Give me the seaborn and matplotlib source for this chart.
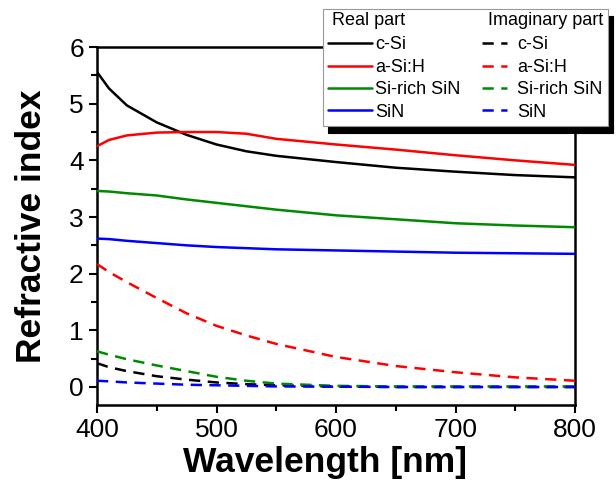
import numpy as np
import pandas as pd
import seaborn as sns
import matplotlib
matplotlib.use("Agg")
import matplotlib.pyplot as plt
from matplotlib.lines import Line2D
from matplotlib.text import Text
from matplotlib.legend_handler import HandlerLine2D, HandlerBase

wavelength = [400, 410, 425, 450, 475, 500, 525, 550, 600, 650, 700, 750, 800]
materials = ["c-Si", "a-Si:H", "Si-rich SiN", "SiN"]

n_real = {
    "c-Si":        [5.56, 5.27, 4.97, 4.67, 4.45, 4.28, 4.16, 4.08, 3.97, 3.87, 3.80, 3.74, 3.70],
    "a-Si:H":      [4.25, 4.36, 4.44, 4.49, 4.50, 4.50, 4.47, 4.38, 4.28, 4.19, 4.09, 4.00, 3.92],
    "Si-rich SiN": [3.46, 3.45, 3.42, 3.38, 3.31, 3.25, 3.19, 3.13, 3.03, 2.96, 2.89, 2.85, 2.82],
    "SiN":         [2.62, 2.61, 2.58, 2.54, 2.50, 2.47, 2.45, 2.43, 2.41, 2.39, 2.37, 2.36, 2.35],
}
k_imag = {
    "c-Si":        [0.42, 0.35, 0.28, 0.19, 0.13, 0.08, 0.05, 0.03, 0.01, 0.00, 0.00, 0.00, 0.00],
    "a-Si:H":      [2.17, 2.03, 1.85, 1.57, 1.30, 1.08, 0.91, 0.76, 0.53, 0.37, 0.26, 0.17, 0.11],
    "Si-rich SiN": [0.63, 0.57, 0.49, 0.38, 0.28, 0.18, 0.11, 0.06, 0.02, 0.01, 0.01, 0.01, 0.01],
    "SiN":         [0.11, 0.10, 0.08, 0.06, 0.04, 0.03, 0.02, 0.01, 0.005, 0.0, 0.0, 0.0, 0.0],
}
colors = {"c-Si": "black", "a-Si:H": "#ff0000", "Si-rich SiN": "#008a00", "SiN": "#0000ff"}
parts = ["Real part", "Imaginary part"]

rows = []
for m in materials:
    for w, v in zip(wavelength, n_real[m]):
        rows.append((w, v, m, parts[0]))
    for w, v in zip(wavelength, k_imag[m]):
        rows.append((w, v, m, parts[1]))
df = pd.DataFrame(rows, columns=["wavelength", "value", "material", "part"])

sns.set_style("ticks")
plt.rcParams["font.family"] = ["Liberation Sans", "DejaVu Sans"]
plt.rcParams["text.color"] = "black"
plt.rcParams["axes.labelcolor"] = "black"
plt.rcParams["xtick.color"] = "black"
plt.rcParams["ytick.color"] = "black"

fig = plt.figure(figsize=(6.16, 4.8), dpi=100)
ax = fig.add_axes([97 / 616, 0.156, 478 / 616, 0.746])

dash_pattern = (4.5, 3)
sns.lineplot(data=df, x="wavelength", y="value", hue="material", style="part",
             hue_order=materials, style_order=parts,
             palette=colors, dashes={parts[0]: "", parts[1]: dash_pattern},
             linewidth=1.8, ax=ax, legend=False, zorder=3)

ax.set_xlim(400, 800)
ax.set_ylim(-0.32, 6)
ax.set_xticks([400, 500, 600, 700, 800])
ax.set_xticks([450, 550, 650, 750], minor=True)
ax.set_yticks([0, 1, 2, 3, 4, 5, 6])
ax.set_yticks(np.arange(0.5, 6, 1.0), minor=True)
ax.tick_params(axis="both", which="major", labelsize=19, length=6, width=1.5, direction="out")
ax.tick_params(axis="both", which="minor", length=4, width=1.5, direction="out")
for s in ax.spines.values():
    s.set_linewidth(1.8)
    s.set_color("black")

ax.set_xlabel("Wavelength [nm]", fontsize=25.5, fontweight="bold", labelpad=3)
ax.xaxis.label.set_x(0.477)
ax.set_ylabel("Refractive index", fontsize=25.5, fontweight="bold", labelpad=15)


class Header:
    def __init__(self, text):
        self.text = text


class HeaderHandler(HandlerBase):
    def __init__(self, dx):
        super().__init__()
        self.dx = dx

    def create_artists(self, legend, orig_handle, xdescent, ydescent, width, height,
                       fontsize, trans):
        t = Text(-xdescent + self.dx, -ydescent + height / 2, orig_handle.text,
                 fontsize=fontsize, va="center", ha="left", color="black",
                 transform=trans)
        return [t]


class ShortLineHandler(HandlerLine2D):
    def __init__(self, f0, f1, **kw):
        super().__init__(**kw)
        self.f0, self.f1 = f0, f1

    def get_xdata(self, legend, xdescent, ydescent, width, height, fontsize):
        x0 = -xdescent + self.f0 * width
        x1 = -xdescent + self.f1 * width
        return np.array([x0, x1]), np.array([x0, x1])


fs = 13
px = fs * 100 / 72.0
h_real = Header(parts[0])
h_imag = Header(parts[1])
real_lines = [Line2D([], [], color=colors[m], lw=1.8) for m in materials]
imag_lines = [Line2D([], [], color=colors[m], lw=1.8, dashes=dash_pattern) for m in materials]
handles = [h_real] + real_lines + [h_imag] + imag_lines
labels = [""] + materials + [""] + materials
hmap = {h_real: HeaderHandler(dx=3), h_imag: HeaderHandler(dx=13)}
for ln in imag_lines:
    hmap[ln] = ShortLineHandler(12 / 44, 37 / 44)

leg = fig.legend(handles, labels, handler_map=hmap, ncol=2, loc="upper left",
                 bbox_to_anchor=(323 / 616, 1 - 9 / 480), bbox_transform=fig.transFigure,
                 fontsize=fs, frameon=True, fancybox=False, handlelength=44 / px,
                 handletextpad=3 / px, columnspacing=10 / px, labelspacing=0.3,
                 borderpad=5 / px, borderaxespad=0,
                 shadow={"color": "black", "alpha": 1.0, "ox": 3.6, "oy": -5})
leg.get_frame().set_edgecolor("#999999")
leg.get_frame().set_linewidth(0.8)
leg.set_zorder(10)

fig.savefig("out.png", dpi=100)
